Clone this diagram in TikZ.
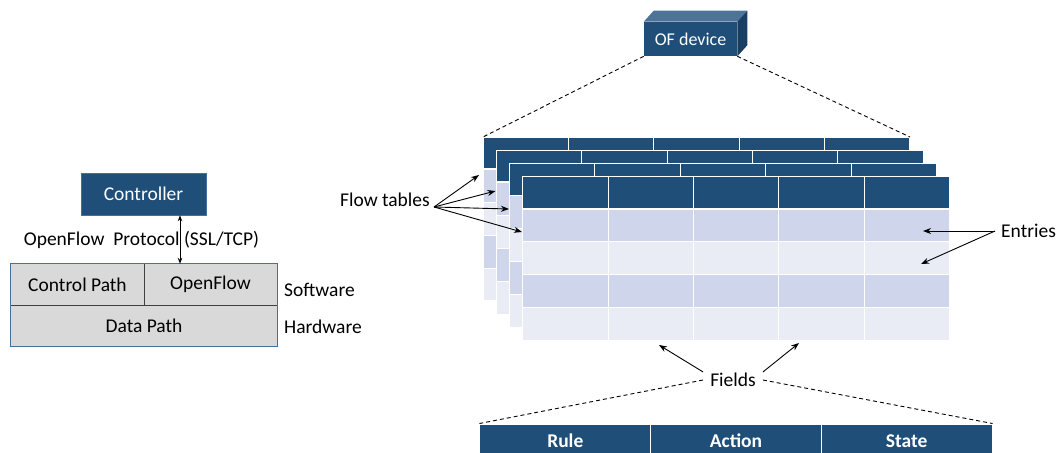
\documentclass[tikz,border=0pt]{standalone}
\usepackage{fontspec}
\setmainfont{Carlito}
\usetikzlibrary{arrows.meta}
\definecolor{hdrblue}{HTML}{1F4E79}
\definecolor{rowdark}{HTML}{CFD5EA}
\definecolor{rowlight}{HTML}{E9EBF5}
\definecolor{boxgray}{HTML}{D9D9D9}
\definecolor{edgeblue}{HTML}{41719C}
\definecolor{devtop}{HTML}{4E7399}
\definecolor{devside}{HTML}{183F63}
\tikzset{
  lbl/.style={font=\fontsize{19.5}{23}\selectfont, inner sep=1pt},
  graybox/.style={lbl, fill=boxgray, minimum height=41pt, inner sep=0pt},
  bluebox/.style={lbl, draw=edgeblue, fill=hdrblue, text=white, line width=0.6pt, inner sep=0pt},
  fieldbox/.style={lbl, draw=white, fill=hdrblue, text=white, line width=1pt, minimum width=170.7pt, minimum height=34pt, inner sep=0pt, font=\fontsize{19.5}{23}\selectfont\bfseries},
  arr/.style={-{Stealth[length=8pt,width=6pt]}, line width=0.9pt},
  dashline/.style={dash pattern=on 4pt off 3pt, line width=0.9pt},
  grid/.style={white, line width=1pt}
}
\begin{document}
\begin{tikzpicture}[x=1pt, y=-1pt]
    \clip (0,0) rectangle (1056,452);
    % switch
    \node[bluebox, minimum width=125pt, minimum height=42pt] (ctrl) at (143.5,194) {Controller};
    \node[graybox, minimum width=133pt] (ctrlpath) at (77.5,284.5) {Control Path};
    \node[graybox, minimum width=133pt] (ofpath) at (210.5,284.5) {OpenFlow};
    \node[graybox, minimum width=266pt] (datapath) at (144,325.5) {Data Path};
    \draw[black!75, line width=0.7pt] (ctrlpath.south west) -- (ofpath.south east);
    \draw[black!75, line width=0.7pt] (ctrlpath.north east) -- (ctrlpath.south east);
    \draw[edgeblue, line width=0.7pt] (ctrlpath.north west) rectangle (datapath.south east);
    \node[lbl] (proto) at (141.5,240) {OpenFlow\ \ Protocol (SSL/TCP)};
    \draw[{Stealth[length=6pt,width=4.5pt]}-{Stealth[length=6pt,width=4.5pt]}, line width=0.8pt] ([xshift=36.5pt]ctrl.south) -- ([xshift=36.5pt]ctrl.south |- ofpath.north);
    \node[lbl, anchor=west] (sw) at (283,290) {Software};
    \node[lbl, anchor=west] (hw) at (283,327) {Hardware};
    % OF device
    \node[bluebox, draw=none, minimum width=93pt, minimum height=34pt, font=\fontsize{18}{21}\selectfont] (ofdev) at (690.5,39) {OF device};
    \fill[devtop] (ofdev.north west) -- ++(10,-11) -- ([shift={(10,-11)}]ofdev.north east) -- (ofdev.north east) -- cycle;
    \fill[devside] (ofdev.north east) -- ++(10,-11) -- ([shift={(10,-11)}]ofdev.south east) -- (ofdev.south east) -- cycle;
    % flow tables
    \foreach \k in {0,...,3}{
      \begin{scope}[shift={(13.2*\k,13.2*\k)}]
        \fill[hdrblue] (483,137) rectangle (910,169);
        \foreach \r/\c in {0/rowdark,1/rowlight,2/rowdark,3/rowlight}
          \fill[\c] (483,169+33*\r) rectangle (910,202+33*\r);
        \foreach \c in {1,...,4}
          \draw[grid] (483+85.4*\c,137) -- ++(0,164);
        \foreach \r in {1,...,3}
          \draw[grid] (483,169+33*\r) -- ++(427,0);
        \draw[grid, line width=1.8pt] (483,169) -- ++(427,0);
        \draw[white, line width=1.4pt] (483,137) rectangle (910,301);
      \end{scope}
    }
    \coordinate (tblnw) at (483,137);
    \coordinate (tblne) at (910,137);
    \draw[dashline] (ofdev.south west) -- (tblnw);
    \draw[dashline] (ofdev.south east) -- (tblne);
    % labels
    \node[lbl, anchor=east] (flowlbl) at (431,200) {Flow tables};
    \coordinate (ftsrc) at (434,207);
    \coordinate (ft0) at (479,175);
    \coordinate (ft1) at (495.5,191);
    \coordinate (ft2) at (509,209);
    \coordinate (ft3) at (522,232);
    \foreach \t in {ft0,ft1,ft2,ft3}
      \draw[arr] (ftsrc) -- (\t);
    \node[lbl, anchor=west] (entrylbl) at (1000,231) {Entries};
    \coordinate (en0) at (923,231);
    \coordinate (en1) at (921,264);
    \draw[arr] ([xshift=-5pt]entrylbl.west) -- (en0);
    \draw[arr] ([xshift=-5pt]entrylbl.west) -- (en1);
    % fields
    \node[fieldbox] (rule) at (565.3,441) {Rule};
    \node[fieldbox] (action) at (736,441) {Action};
    \node[fieldbox] (state) at (906.7,441) {State};
    \node[lbl, inner xsep=7pt] (fieldlbl) at (733,380) {Fields};
    \coordinate (fl0) at (659,345);
    \coordinate (fl1) at (799,343);
    \draw[arr] (fieldlbl.north west) -- (fl0);
    \draw[arr] (fieldlbl.north east) -- (fl1);
    \draw[dashline] (fieldlbl.west) -- (rule.north west);
    \draw[dashline] (fieldlbl.east) -- (state.north east);
\end{tikzpicture}
\end{document}
